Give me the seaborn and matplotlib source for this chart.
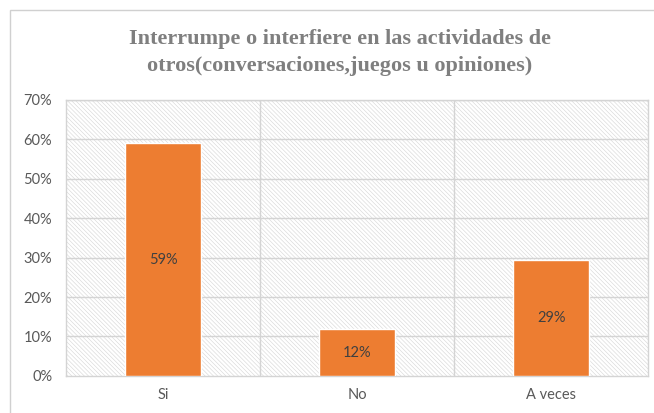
import matplotlib
matplotlib.use("Agg")
import matplotlib.pyplot as plt
import seaborn as sns
import pandas as pd
from matplotlib.patches import Rectangle
from matplotlib.ticker import MultipleLocator, PercentFormatter

categories = ["Si", "No", "A veces"]
values = [0.59, 0.118, 0.295]
labels = ["59%", "12%", "29%"]
title = "Interrumpe o interfiere en las actividades de\notros(conversaciones,juegos u opiniones)"

df = pd.DataFrame({"cat": categories, "val": values})

sns.set_theme(style="white")
plt.rcParams["font.family"] = ["Lato", "DejaVu Sans"]
plt.rcParams["hatch.linewidth"] = 0.45
plt.rcParams["hatch.color"] = "#d9d9d9"

fig = plt.figure(figsize=(6.54, 4.13), dpi=100)
# chart border
fig.patches.append(Rectangle((0.016, -0.01), 1.0, 0.985, transform=fig.transFigure,
                             facecolor="none", edgecolor="#d0d0d0", lw=1, zorder=-1))
ax = fig.add_axes([0.101, 0.09, 0.89, 0.668])

# hatched plot background
ax.add_patch(Rectangle((0, 0), 1, 1, transform=ax.transAxes, facecolor="white",
                       edgecolor="#d9d9d9", hatch="\\\\\\\\\\\\\\\\", lw=0, zorder=0))

sns.barplot(data=df, x="cat", y="val", color="#ED7D31", width=0.39,
            saturation=1, ax=ax, zorder=3)

for i, (v, lab) in enumerate(zip(values, labels)):
    ax.text(i, v / 2, lab, ha="center", va="center", fontsize=10.5, color="#404040", zorder=4)

ax.set_xlim(-0.5, 2.5)
ax.set_ylim(0, 0.70)
ax.yaxis.set_major_locator(MultipleLocator(0.1))
ax.yaxis.set_major_formatter(PercentFormatter(1.0, decimals=0))
ax.set_xlabel("")
ax.set_ylabel("")

for y in [0.1, 0.2, 0.3, 0.4, 0.5, 0.6, 0.7]:
    ax.axhline(y, color="#d4d4d4", lw=1, zorder=1)
for x in [0.5, 1.5]:
    ax.axvline(x, color="#d4d4d4", lw=1, zorder=1)

for s in ax.spines.values():
    s.set_color("#d4d4d4")
    s.set_linewidth(1)
ax.tick_params(axis="both", length=0, labelsize=10.5, labelcolor="#595959")
ax.tick_params(axis="x", pad=9)
ax.tick_params(axis="y", pad=10)

fig.text(0.52, 0.873, title, ha="center", va="center", fontsize=16, fontweight="bold",
         color="#7f7f7f", family=["Liberation Serif", "DejaVu Serif"], linespacing=1.45)

fig.savefig("out.png", dpi=100)
